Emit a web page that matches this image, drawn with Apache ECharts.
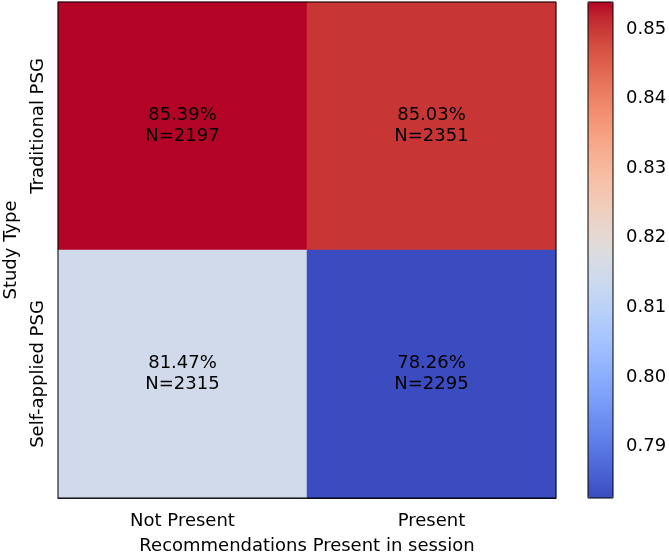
<!DOCTYPE html>
<html>
<head>
<meta charset="utf-8">
<script src="https://cdn.jsdelivr.net/npm/echarts@6/dist/echarts.min.js"></script>
<style>
  html, body { margin: 0; padding: 0; background: #fff; }
  #chart { width: 669px; height: 554px; }
</style>
</head>
<body>
<div id="chart"></div>
<script>
// 数据
const xCategories = ['Not Present', 'Present'];
const yCategories = ['Self-applied PSG', 'Traditional PSG'];
// [x, y, rate]
const rates = [
  [0, 1, 0.8539], [1, 1, 0.8503],
  [0, 0, 0.8147], [1, 0, 0.7826]
];
const counts = [2197, 2351, 2315, 2295];
const colorbarTicks = [0.79, 0.80, 0.81, 0.82, 0.83, 0.84, 0.85];
const vMin = 0.7826;
const vMax = 0.8539;

// coolwarm
const coolwarm = [
  '#3b4cc0', '#445acc', '#4d68d7', '#5775e1', '#6282ea', '#6c8ef1', '#779af7', '#82a5fb',
  '#8db0fe', '#98b9ff', '#a3c2ff', '#aec9fd', '#b8d0f9', '#c2d5f4', '#ccd9ee', '#d5dbe6',
  '#dddddd', '#e5d8d1', '#ecd3c5', '#f1ccb9', '#f5c4ad', '#f7bba0', '#f7b194', '#f7a687',
  '#f49a7b', '#f18d6f', '#ec7f63', '#e57058', '#de604d', '#d55042', '#cb3e38', '#c0282f',
  '#b40426'
];

const font = 'DejaVu Sans';
const chart = echarts.init(document.getElementById('chart'));

const option = {
  backgroundColor: '#fff',
  textStyle: { fontFamily: font },
  grid: [
    { left: 58, top: 2, width: 498, height: 496, show: true, z: 3,
      containLabel: false, outerBoundsMode: 'none',
      borderColor: '#000', borderWidth: 1, backgroundColor: 'transparent' },
    { left: 588, top: 2, width: 25, height: 496, show: true, z: 10,
      containLabel: false, outerBoundsMode: 'none',
      borderColor: '#000', borderWidth: 1, backgroundColor: 'transparent' }
  ],
  xAxis: [
    {
      gridIndex: 0,
      type: 'category',
      data: xCategories,
      name: 'Recommendations Present in session',
      nameLocation: 'middle',
      nameGap: 39,
      nameTextStyle: { fontSize: 18, color: '#000', fontFamily: font },
      axisLine: { show: true, lineStyle: { color: '#000' } },
      axisTick: { alignWithLabel: true, length: 6, lineStyle: { color: '#000' } },
      axisLabel: { fontSize: 18, color: '#000', margin: 14, fontFamily: font },
      splitLine: { show: false },
      splitArea: { show: false }
    },
    { gridIndex: 1, type: 'value', show: false }
  ],
  yAxis: [
    {
      gridIndex: 0,
      type: 'category',
      data: yCategories,
      name: 'Study Type',
      nameLocation: 'middle',
      nameGap: 38,
      nameTextStyle: { fontSize: 18, color: '#000', fontFamily: font },
      axisLine: { show: true, lineStyle: { color: '#000' } },
      axisTick: { alignWithLabel: true, length: 6, lineStyle: { color: '#000' } },
      axisLabel: { fontSize: 18, color: '#000', rotate: 90, margin: 11, fontFamily: font },
      splitLine: { show: false },
      splitArea: { show: false }
    },
    {
      gridIndex: 1,
      type: 'value',
      position: 'right',
      min: vMin,
      max: vMax,
      axisLine: { show: false },
      axisTick: { show: true, length: 6, customValues: colorbarTicks, lineStyle: { color: '#000' } },
      axisLabel: {
        fontSize: 18, color: '#000', margin: 13, fontFamily: font,
        customValues: colorbarTicks,
        formatter: v => v.toFixed(2)
      },
      splitLine: { show: false }
    }
  ],
  visualMap: {
    type: 'continuous',
    seriesIndex: 0,
    min: vMin,
    max: vMax,
    calculable: false,
    orient: 'vertical',
    left: 588,
    top: 2,
    itemWidth: 25,
    itemHeight: 496,
    padding: 0,
    text: null,
    showLabel: false,
    hoverLink: false,
    inRange: { color: coolwarm }
  },
  series: [{
    type: 'heatmap',
    xAxisIndex: 0,
    yAxisIndex: 0,
    data: rates,
    label: {
      show: true,
      color: '#000',
      fontSize: 18,
      lineHeight: 21,
      fontFamily: font,
      formatter: p => {
        const i = (1 - p.value[1]) * 2 + p.value[0];
        return (p.value[2] * 100).toFixed(2) + '%\nN=' + counts[i];
      }
    },
    itemStyle: { borderWidth: 0 },
    emphasis: { disabled: true }
  }]
};

chart.setOption(option);
</script>
</body>
</html>
